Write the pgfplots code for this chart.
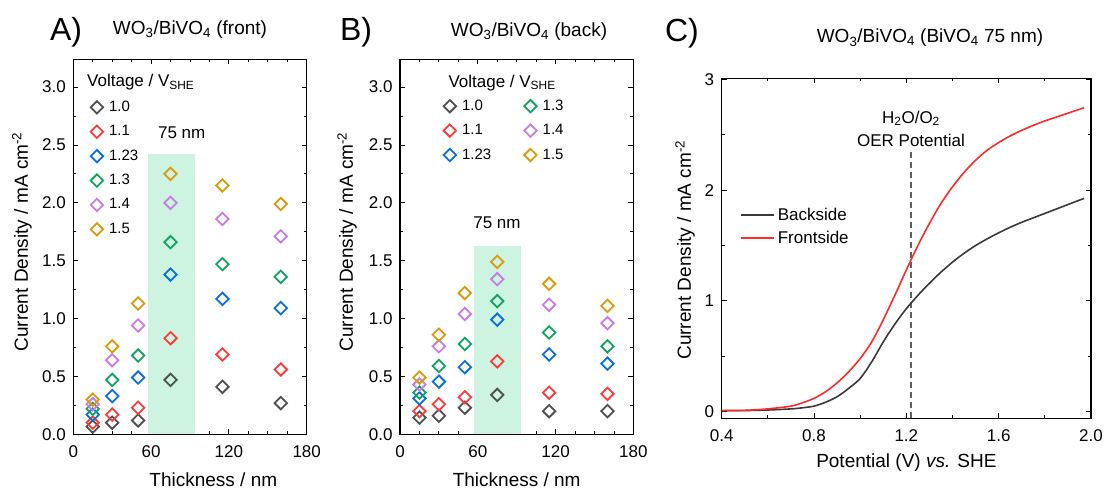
\documentclass[border=0pt]{standalone}
\usepackage{fontspec}
\setmainfont{Liberation Sans}
\usepackage{pgfplots}
\pgfplotsset{compat=1.18}

\definecolor{cGray}{HTML}{505050}
\definecolor{cRed}{HTML}{FF3B3B}
\definecolor{cBlue}{HTML}{0A70E0}
\definecolor{cGreen}{HTML}{10A462}
\definecolor{cPurple}{HTML}{C77DE8}
\definecolor{cOrange}{HTML}{DC9A08}
\definecolor{cMint}{HTML}{CDF3E1}
\definecolor{cLine}{HTML}{3A3A3A}
\definecolor{cRedL}{HTML}{FF2A2A}

\pgfplotsset{
  common/.style={
    scale only axis,
    /pgf/number format/assume math mode=true,
    tick align=inside,
    major tick length=5pt, minor tick length=3pt,
    axis line style={line width=1.2pt, black},
    every tick/.style={line width=0.9pt, black},
    tick label style={font=\fontsize{17}{20}\selectfont},
    x tick label style={yshift=-8pt},
    y tick label style={xshift=-4pt},
    label style={font=\fontsize{19}{22}\selectfont},
  },
  panel/.style={
    common,
    width=233.4pt, height=375pt,
    xmin=0, xmax=180, ymin=0, ymax=3.24,
    xtick={0,60,120,180}, minor x tick num=3,
    ytick={0,0.5,1,1.5,2,2.5,3}, minor y tick num=1,
    y tick label style={/pgf/number format/.cd, fixed, fixed zerofill, precision=1},
    xlabel={Thickness / nm},
    ylabel={Current Density / mA cm\textsuperscript{-2}},
    legend cell align=left,
  },
  vm/.style={only marks, mark=square, mark size=4.4pt, color=#1,
    mark options={rotate=45, line width=1.8pt, draw=#1, fill=none}},
}

\begin{document}
\begin{tikzpicture}
\path[use as bounding box] (0pt,0pt) rectangle (1104pt,-490pt);

% ---------------- Panel A ----------------
\begin{axis}[panel,
  at={(73.3pt,-434.3pt)}, anchor=south west,
  xlabel style={at={(axis description cs:0.6,-0.122)}, anchor=center},
  ylabel style={at={(axis description cs:-0.22,0.513)}, anchor=center},
  legend style={at={(axis description cs:0.0737,0.905)}, anchor=north west,
    draw=none, fill=none, inner sep=0pt, row sep=0pt,
    font=\fontsize{15}{18}\selectfont,
    nodes={inner ysep=5.2pt, inner xsep=6pt, text height=11pt, text depth=3pt}},
]
\addplot[fill=cMint, draw=none, forget plot] coordinates {(57.5,0) (93.5,0) (93.5,2.42) (57.5,2.42)} -- cycle;
\addplot[vm=cGray] coordinates {(15,0.066) (30,0.10) (50,0.12) (75,0.47) (115,0.41) (160,0.27)};
\addlegendentry{1.0}
\addplot[vm=cRed] coordinates {(15,0.10) (30,0.17) (50,0.23) (75,0.83) (115,0.69) (160,0.56)};
\addlegendentry{1.1}
\addplot[vm=cBlue] coordinates {(15,0.17) (30,0.33) (50,0.49) (75,1.38) (115,1.17) (160,1.09)};
\addlegendentry{1.23}
\addplot[vm=cGreen] coordinates {(15,0.22) (30,0.47) (50,0.68) (75,1.66) (115,1.47) (160,1.36)};
\addlegendentry{1.3}
\addplot[vm=cPurple] coordinates {(15,0.26) (30,0.64) (50,0.94) (75,2.00) (115,1.86) (160,1.71)};
\addlegendentry{1.4}
\addplot[vm=cOrange] coordinates {(15,0.30) (30,0.76) (50,1.13) (75,2.25) (115,2.15) (160,1.99)};
\addlegendentry{1.5}
\end{axis}

% ---------------- Panel B ----------------
\begin{axis}[panel,
  at={(400pt,-434.3pt)}, anchor=south west,
  xlabel style={at={(axis description cs:0.5,-0.122)}, anchor=center},
  ylabel style={at={(axis description cs:-0.227,0.513)}, anchor=center},
  legend columns=3, transpose legend,
  legend style={at={(axis description cs:0.186,0.908)}, anchor=north west,
    draw=none, fill=none, inner sep=0pt, row sep=0pt,
    font=\fontsize{15}{18}\selectfont,
    nodes={inner ysep=5.2pt, inner xsep=6pt, text height=11pt, text depth=3pt},
    /tikz/every even column/.append style={column sep=27pt}},
]
\addplot[fill=cMint, draw=none, forget plot] coordinates {(57.3,0) (93.4,0) (93.4,1.63) (57.3,1.63)} -- cycle;
\addplot[vm=cGray] coordinates {(15,0.144) (30,0.16) (50,0.23) (75,0.34) (115,0.20) (160,0.20)};
\addlegendentry{1.0}
\addplot[vm=cRed] coordinates {(15,0.20) (30,0.26) (50,0.32) (75,0.63) (115,0.36) (160,0.35)};
\addlegendentry{1.1}
\addplot[vm=cBlue] coordinates {(15,0.31) (30,0.455) (50,0.58) (75,0.99) (115,0.69) (160,0.61)};
\addlegendentry{1.23}
\addplot[vm=cGreen] coordinates {(15,0.36) (30,0.59) (50,0.78) (75,1.15) (115,0.88) (160,0.76)};
\addlegendentry{1.3}
\addplot[vm=cPurple] coordinates {(15,0.43) (30,0.76) (50,1.04) (75,1.34) (115,1.12) (160,0.96)};
\addlegendentry{1.4}
\addplot[vm=cOrange] coordinates {(15,0.49) (30,0.86) (50,1.22) (75,1.49) (115,1.30) (160,1.11)};
\addlegendentry{1.5}
\end{axis}

% ---------------- Panel C ----------------
\begin{axis}[common,
  at={(721.7pt,-418.3pt)}, anchor=south west,
  width=369.3pt, height=340pt,
  xmin=0.4, xmax=2.0, ymin=-0.06, ymax=3.01,
  xtick={0.4,0.8,1.2,1.6,2.0}, minor x tick num=1,
  ytick={0,1,2,3}, minor y tick num=1,
  x tick label style={/pgf/number format/.cd, fixed, fixed zerofill, precision=1},
  xlabel={Potential (V) \textit{vs.} SHE},
  ylabel={Current Density / mA cm\textsuperscript{-2}},
  xlabel style={at={(axis description cs:0.5,-0.129)}, anchor=center},
  ylabel style={at={(axis description cs:-0.099,0.495)}, anchor=center},
  legend cell align=left,
  legend image code/.code={\draw[#1] (0pt,0pt) -- (33pt,0pt);},
  legend style={at={(axis description cs:0.0496,0.632)}, anchor=north west,
    draw=none, fill=none, inner sep=0pt, row sep=0pt,
    font=\fontsize{17}{20}\selectfont,
    nodes={inner ysep=4.5pt, inner xsep=3pt, text height=12pt, text depth=2pt}},
]
\addplot[dashed, dash pattern=on 6pt off 4pt, line width=1.1pt, color=cGray!90, forget plot] coordinates {(1.22,-0.06) (1.22,2.36)};
\addplot[smooth, line width=1.6pt, color=cLine] coordinates {
 (0.40,0.01) (0.50,0.01) (0.60,0.015) (0.70,0.025) (0.75,0.035) (0.80,0.05) (0.85,0.085)
 (0.90,0.135) (0.95,0.21) (1.00,0.30) (1.05,0.45) (1.10,0.63) (1.15,0.79) (1.20,0.93)
 (1.25,1.05) (1.30,1.16) (1.35,1.26) (1.40,1.35) (1.45,1.43) (1.50,1.50) (1.55,1.56)
 (1.60,1.615) (1.65,1.665) (1.70,1.71) (1.75,1.75) (1.80,1.79) (1.85,1.83) (1.90,1.87)
 (1.95,1.91) (1.97,1.925)};
\addlegendentry{Backside}
\addplot[smooth, line width=1.6pt, color=cRedL] coordinates {
 (0.40,0.01) (0.50,0.012) (0.60,0.025) (0.70,0.05) (0.75,0.08) (0.80,0.12) (0.85,0.18)
 (0.90,0.26) (0.95,0.36) (1.00,0.48) (1.05,0.63) (1.10,0.83) (1.15,1.05) (1.20,1.28)
 (1.25,1.50) (1.30,1.70) (1.35,1.88) (1.40,2.03) (1.45,2.16) (1.50,2.27) (1.55,2.36)
 (1.60,2.43) (1.65,2.49) (1.70,2.54) (1.75,2.585) (1.80,2.625) (1.85,2.66) (1.90,2.695)
 (1.95,2.73) (1.97,2.745)};
\addlegendentry{Frontside}
\end{axis}

% ---------------- Titles and annotations ----------------
\node[anchor=base, inner sep=0pt, font=\fontsize{32}{36}\selectfont] at (66pt,-40.7pt) {A)};
\node[anchor=base, inner sep=0pt, font=\fontsize{32}{36}\selectfont] at (356pt,-40.7pt) {B)};
\node[anchor=base, inner sep=0pt, font=\fontsize{32}{36}\selectfont] at (682pt,-41.7pt) {C)};
\node[anchor=base, inner sep=0pt, font=\fontsize{19}{22}\selectfont] at (190pt,-34pt) {WO\textsubscript{3}/BiVO\textsubscript{4} (front)};
\node[anchor=base, inner sep=0pt, font=\fontsize{19}{22}\selectfont] at (529pt,-36pt) {WO\textsubscript{3}/BiVO\textsubscript{4} (back)};
\node[anchor=base, inner sep=0pt, font=\fontsize{19}{22}\selectfont] at (930pt,-42.7pt) {WO\textsubscript{3}/BiVO\textsubscript{4} (BiVO\textsubscript{4} 75 nm)};
\node[anchor=base west, inner sep=0pt, font=\fontsize{17}{20}\selectfont] at (87pt,-86.7pt) {Voltage / V\textsubscript{SHE}};
\node[anchor=base west, inner sep=0pt, font=\fontsize{17}{20}\selectfont] at (448.3pt,-87.3pt) {Voltage / V\textsubscript{SHE}};
\node[anchor=base, inner sep=0pt, font=\fontsize{17}{20}\selectfont] at (181.7pt,-138.3pt) {75 nm};
\node[anchor=base, inner sep=0pt, font=\fontsize{17}{20}\selectfont] at (497pt,-228.3pt) {75 nm};
\node[anchor=base, inner sep=0pt, font=\fontsize{17}{20}\selectfont] at (911pt,-123.3pt) {H\textsubscript{2}O/O\textsubscript{2}};
\node[anchor=base, inner sep=0pt, font=\fontsize{17}{20}\selectfont] at (911pt,-146pt) {OER Potential};
\end{tikzpicture}
\end{document}
